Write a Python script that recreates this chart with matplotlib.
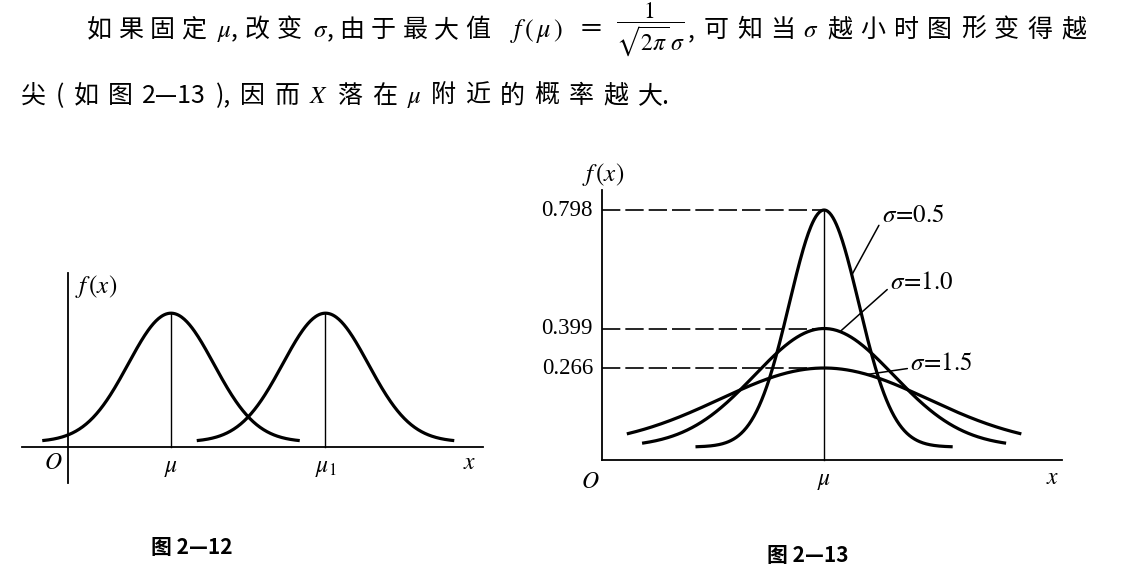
import numpy as np
import matplotlib.pyplot as plt

plt.rcParams['font.family'] = ['Noto Sans CJK SC', 'DejaVu Sans']
plt.rcParams['mathtext.fontset'] = 'stix'

W, H = 1140, 579

# 图 2-12: two normal curves with the same sigma, different means
left_mu = [2.0, 5.0]
left_mu_labels = [r'$\mu$', r'$\mu_1$']
left_sigma = 0.83
left_span = [(-0.5, 4.5), (2.5, 7.5)]

# 图 2-13: same mean, sigma = 0.5 / 1.0 / 1.5
right_mu = 3.2
right_sigma = [0.5, 1.0, 1.5]
right_peak_labels = ['0.798', '0.399', '0.266']
right_half_span = [1.83, 2.6, 2.82]
sigma_labels = [r'$\sigma\!=\!0.5$', r'$\sigma\!=\!1.0$', r'$\sigma\!=\!1.5$']
leader_x = [3.6, 3.43, 3.82]
label_pos = [(4.03, 0.781), (4.15, 0.556), (4.44, 0.283)]

# paragraph, split into tokens so the lines can be justified like the book
line1_a = ['如', '果', '固', '定', r' $\mu$,', '改', '变', r' $\sigma$,',
           '由', '于', '最', '大', '值']
line1_f = r'$f\,(\,\mu\,)$'
line1_frac = r'$\dfrac{1}{\sqrt{2\pi}\,\sigma}$'
line1_b = [',', '可', '知', '当', r'$\sigma$', '越', '小', '时', '图', '形', '变', '得', '越']
line2 = ['尖', '(', '如', '图', '2—13', '),', '因', '而', r'$X$', '落', '在', r'$\mu$',
         '附', '近', '的', '概', '率', '越', '大.']


def pdf(x, mu, s):
    return np.exp(-(x - mu) ** 2 / (2 * s * s)) / (np.sqrt(2 * np.pi) * s)


def px_axes(fig, x0, y0, x1, y1):
    # box in pixels, y measured from the top of the figure
    ax = fig.add_axes([x0 / W, 1 - y1 / H, (x1 - x0) / W, (y1 - y0) / H])
    ax.axis('off')
    return ax


def ftext(x, y, s, **kw):
    return fig.text(x / W, 1 - y / H, s, **kw)


def justify(tokens, x0, x1, y, size):
    objs = [ftext(0, y, t, fontsize=size, va='baseline', ha='left') for t in tokens]
    r = fig.canvas.get_renderer()
    widths = [o.get_window_extent(r).width for o in objs]
    gap = (x1 - x0 - sum(widths)) / (len(tokens) - 1)
    x = x0
    for o, w in zip(objs, widths):
        o.set_x(x / W)
        x += w + gap


fig = plt.figure(figsize=(W / 100, H / 100), dpi=100)

# ---- paragraph text
fs = 18
justify(line1_a, 87, 490, 37, fs)
ftext(510, 37, line1_f, fontsize=19, va='baseline', ha='left')
ftext(591, 37, '＝', fontsize=fs, va='baseline', ha='center')
ftext(650, 30, line1_frac, fontsize=17, va='center', ha='center')
justify(line1_b, 688, 1086, 37, fs)
justify(line2, 21, 670, 103, fs)

# ---- left chart (图 2-12)
ax1 = px_axes(fig, 15, 260, 495, 495)
ax1.set_xlim((15 - 68) / 51.5, (495 - 68) / 51.5)
ax1.set_ylim((442 - 495) / 268, (442 - 260) / 268)
base1 = (442 - 447) / 268
ax1.plot([(22 - 68) / 51.5, (483 - 68) / 51.5], [base1, base1], color='black', lw=1.3)
ax1.plot([0, 0], [(442 - 483) / 268, (442 - 273) / 268], color='black', lw=1.3)
for mu, (a, b), lab in zip(left_mu, left_span, left_mu_labels):
    xs = np.linspace(a, b, 300)
    ax1.plot(xs, pdf(xs, mu, left_sigma), color='black', lw=2.3, solid_capstyle='butt')
    ax1.plot([mu, mu], [base1, pdf(mu, mu, left_sigma)], color='black', lw=1.0)
    ax1.text(mu, -0.095, lab, fontsize=17, ha='center', va='center')
ax1.text(-0.29, -0.078, r'$O$', fontsize=17, ha='center', va='center')
ax1.text(7.8, -0.078, r'$x$', fontsize=17, ha='center', va='center')
ax1.text(0.13, 0.58, r'$f\,(x)$', fontsize=18, ha='left', va='center')

# ---- right chart (图 2-13)
sx, sy, y0 = 69.4, 297, 447
ax2 = px_axes(fig, 525, 160, 1095, 500)
ax2.set_xlim((525 - 602) / sx, (1095 - 602) / sx)
ax2.set_ylim((y0 - 500) / sy, (y0 - 160) / sy)
base2 = (y0 - 459.5) / sy
ax2.plot([0, (1062 - 602) / sx], [base2, base2], color='black', lw=1.3)
ax2.plot([0, 0], [base2, (y0 - 190) / sy], color='black', lw=1.3)
peaks = [pdf(right_mu, right_mu, s) for s in right_sigma]
ax2.plot([right_mu, right_mu], [base2, max(peaks)], color='black', lw=1.0)
for s, hs, pk, plab in zip(right_sigma, right_half_span, peaks, right_peak_labels):
    xs = np.linspace(right_mu - hs, right_mu + hs, 300)
    ax2.plot(xs, pdf(xs, right_mu, s), color='black', lw=2.3)
    ax2.plot([0, right_mu], [pk, pk], color='black', lw=1.2, dashes=(11, 3))
    ax2.text(-0.13, pk, plab, fontsize=16.5, family='Liberation Serif', ha='right', va='center')
for s, lab, lx, (tx, ty) in zip(right_sigma, sigma_labels, leader_x, label_pos):
    ax2.annotate(lab, xy=(lx, pdf(lx, right_mu, s)), xytext=(tx, ty),
                 fontsize=18, ha='left', va='center',
                 arrowprops=dict(arrowstyle='-', color='black', lw=1.1,
                                 shrinkA=0, shrinkB=0, relpos=(0.0, 0.3)))
ax2.text(0.01, (y0 - 175) / sy, r'$f\,(x)$', fontsize=18, ha='center', va='center')
ax2.text(-0.17, (y0 - 481) / sy, r'$O$', fontsize=17, ha='center', va='center')
ax2.text(right_mu, (y0 - 481) / sy, r'$\mu$', fontsize=17, ha='center', va='center')
ax2.text(6.5, (y0 - 478) / sy, r'$x$', fontsize=17, ha='center', va='center')

# ---- captions
ftext(192, 548, '图 2—12', fontsize=15, fontweight='bold', ha='center', va='center')
ftext(808, 555, '图 2—13', fontsize=15, fontweight='bold', ha='center', va='center')

fig.savefig('out.png', dpi=100, facecolor='white')
